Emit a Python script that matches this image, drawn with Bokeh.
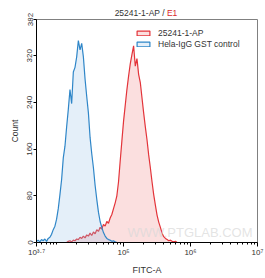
import numpy as np
from bokeh.plotting import figure
from bokeh.layouts import column
from bokeh.models import FixedTicker, Label, Range1d, Legend, LegendItem, Div
from bokeh.embed import file_html
from bokeh.resources import INLINE

# ---- data (log10 FITC-A bins, counts) ----
bin_step = 0.025
blue_start = 3.70
blue_counts = [2, 4, 1, 5, 3, 6, 2, 7, 9, 14, 22, 28, 40, 58, 82, 108, 145, 165, 198, 228,
               262, 238, 292, 300, 318, 346, 330, 341, 318, 280, 250, 222, 180, 152, 128,
               98, 74, 52, 36, 26, 17, 11, 7, 5, 4, 2, 3, 1, 0]
red_start = 4.15
red_counts = [0, 2, 3, 1, 4, 3, 6, 5, 9, 7, 11, 8, 13, 11, 16, 12, 18, 15, 22, 19, 26, 23,
              31, 28, 36, 33, 42, 48, 58, 68, 80, 104, 140, 174, 208, 235, 262, 285, 306,
              322, 337, 302, 315, 288, 274, 248, 222, 198, 176, 150, 128, 104, 82, 64, 47,
              35, 26, 16, 10, 7, 5, 3, 4, 2, 1, 2, 0]
series_names = ["25241-1-AP", "Hela-IgG GST control"]
x_tick_vals = [10 ** 3.7, 100000, 1000000, 10000000]
x_tick_labels = ["10³·⁷", "10⁵", "10⁶", "10⁷"]
y_ticks = [0, 80, 160, 240, 320, 382]
title_main = "25241-1-AP / "
title_em = "E1"
x_label = "FITC-A"
y_label = "Count"
watermark = "WWW.PTGLAB.COM"

FONT = "Liberation Sans"
TXT = "#333333"

x_lo, x_hi = x_tick_vals[0], x_tick_vals[-1]
y_lo, y_hi = y_ticks[0], y_ticks[-1]

p = figure(width=264, height=265, x_axis_type="log",
           x_range=Range1d(x_lo, x_hi), y_range=Range1d(y_lo, y_hi),
           output_backend="svg", toolbar_location=None, title=None,
           min_border_left=36, min_border_right=7, min_border_top=7, min_border_bottom=32)
p.xgrid.visible = False
p.ygrid.visible = False
p.outline_line_color = "#808080"
p.outline_line_width = 1
p.background_fill_color = "white"
p.border_fill_color = None


def series_patch(start, counts):
    n = len(counts)
    lx = start + bin_step * np.arange(n)
    x = 10 ** lx
    xs = np.concatenate([x, x[::-1]])
    ys = np.concatenate([np.array(counts, dtype=float), np.zeros(n)])
    return xs, ys


rx, ry = series_patch(red_start, red_counts)
bx, by = series_patch(blue_start, blue_counts)

r_red = p.patch(rx, ry, fill_color="#f28c8c", fill_alpha=0.28,
                line_color="#e3343a", line_width=1.2)
r_blue = p.patch(bx, by, fill_color="#93c0e6", fill_alpha=0.25,
                 line_color="#2f86c8", line_width=1.2)

# axes
minor = []
for d in range(3, 7):
    for m in range(1, 10):
        v = m * 10 ** d
        if x_lo < v < x_hi and v not in x_tick_vals:
            minor.append(v)
p.xaxis.ticker = FixedTicker(ticks=x_tick_vals, minor_ticks=minor)
p.yaxis.ticker = FixedTicker(ticks=y_ticks, minor_ticks=[])
p.xaxis.major_label_overrides = dict(zip(x_tick_vals, x_tick_labels))
for ax in (p.xaxis[0], p.yaxis[0]):
    ax.major_label_text_font = FONT
    ax.major_label_text_font_size = "8px"
    ax.major_label_text_color = TXT
    ax.axis_label_text_font = FONT
    ax.axis_label_text_font_style = "normal"
    ax.axis_label_text_color = TXT
    ax.axis_line_color = "black"
    ax.major_tick_line_color = "black"
    ax.minor_tick_line_color = "black"
    ax.major_tick_in = 0
    ax.minor_tick_in = 0
    ax.major_label_standoff = 1
p.xaxis.axis_label = x_label
p.xaxis.axis_label_text_font_size = "9px"
p.xaxis.axis_label_standoff = 5
p.xaxis.major_tick_out = 4
p.xaxis.minor_tick_out = 2
p.yaxis.axis_label = y_label
p.yaxis.axis_label_text_font_size = "8.5px"
p.yaxis.axis_label_standoff = 5
p.yaxis.major_label_orientation = "vertical"
p.yaxis.major_tick_out = 3
p.yaxis.minor_tick_out = 0

# watermark
p.add_layout(Label(x=10 ** 5.06, y=17, text=watermark, text_align="left",
                   text_baseline="middle", text_font=FONT, text_font_size="13px",
                   text_color="#d8d8d8", text_alpha=0.7))

legend = Legend(items=[LegendItem(label=series_names[0], renderers=[r_red]),
                       LegendItem(label=series_names[1], renderers=[r_blue])],
                location=(99, 193), padding=0, margin=0, spacing=0,
                glyph_width=16, glyph_height=6, label_height=11, label_standoff=7,
                label_text_font=FONT, label_text_font_size="8.5px", label_text_color=TXT,
                background_fill_alpha=0, border_line_color=None)
p.add_layout(legend)

# two-colour title
title_div = Div(text=f'{title_main}<span style="color:#d9262c">{title_em}</span>',
                width=236, height=12, margin=(7, 0, -7, 28),
                styles={"font-family": FONT, "font-size": "8.5px", "color": TXT,
                        "line-height": "12px", "text-align": "center",
                        "white-space": "pre", "z-index": "2"})

layout = column(title_div, p, spacing=0)
open("out.html", "w").write(file_html(layout, INLINE))
